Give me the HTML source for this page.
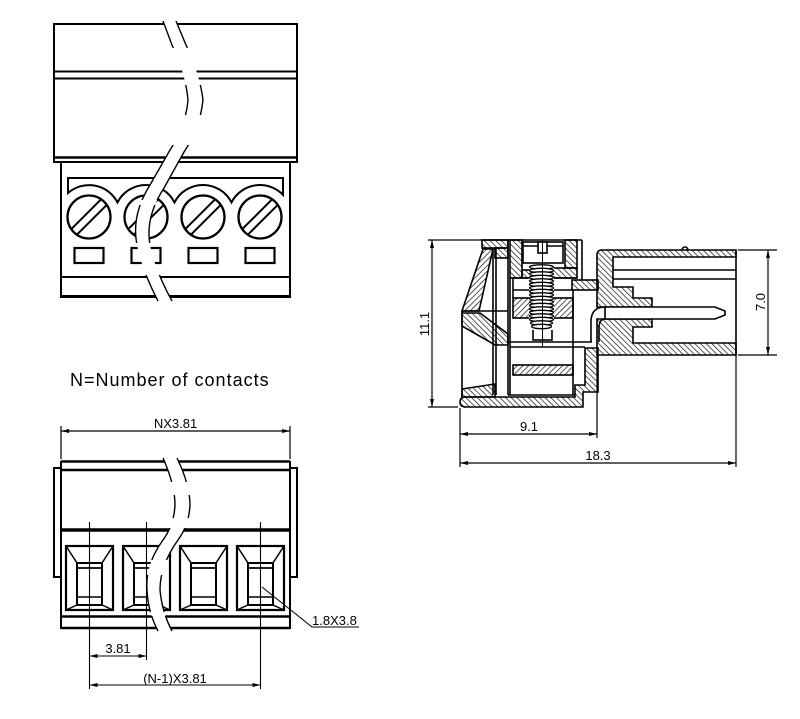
<!DOCTYPE html>
<html><head><meta charset="utf-8"><style>
html,body{margin:0;padding:0;background:#fff;}
svg{display:block;}
text{font-family:"Liberation Sans",sans-serif;fill:#000;}
</style></head><body>
<svg width="800" height="719" viewBox="0 0 800 719" xmlns="http://www.w3.org/2000/svg">
<defs>
<pattern id="hb" width="4" height="4" patternUnits="userSpaceOnUse" patternTransform="rotate(-45)"><line x1="0" y1="0" x2="0" y2="4" stroke="#000" stroke-width="1.3"/></pattern>
<pattern id="hf" width="4" height="4" patternUnits="userSpaceOnUse" patternTransform="rotate(45)"><line x1="0" y1="0" x2="0" y2="4" stroke="#000" stroke-width="1.3"/></pattern>
<clipPath id="ct"><rect x="0" y="20" width="400" height="28"/><rect x="0" y="85" width="400" height="30"/><rect x="0" y="145" width="400" height="55"/><rect x="0" y="205" width="400" height="38"/><rect x="0" y="275" width="400" height="30"/></clipPath>
<clipPath id="cb"><rect x="0" y="457" width="400" height="25"/><rect x="0" y="495" width="400" height="23"/><rect x="0" y="528" width="400" height="32"/><rect x="0" y="575" width="400" height="37"/><rect x="0" y="616" width="400" height="16"/></clipPath>
</defs>
<rect width="800" height="719" fill="#fff"/>

<!-- ================= TOP VIEW ================= -->
<g stroke="#000" fill="none" stroke-width="2">
<rect x="54" y="24" width="243" height="138"/>
<line x1="54" y1="71.5" x2="297" y2="71.5"/>
<line x1="54" y1="78.5" x2="297" y2="78.5"/>
<line x1="54" y1="157.5" x2="297" y2="157.5" stroke-width="2.5"/>
<path d="M61 162 V297 H290 V162"/>
<line x1="61" y1="296.5" x2="290" y2="296.5" stroke-width="3"/>
<line x1="61" y1="277" x2="290" y2="277"/>
<path d="M68 178 H283 V194.8 A32 32 0 0 0 231.5 202.4 A32 32 0 0 0 174.5 202.4 A32 32 0 0 0 117.5 202.4 A32 32 0 0 0 68 193 Z"/>
<g id="scr">
<circle cx="89" cy="217" r="21.5" stroke-width="2.3"/>
<line x1="71.3" y1="229.1" x2="101.1" y2="199.3"/>
<line x1="76.9" y1="234.7" x2="106.7" y2="204.9"/>
<rect x="74.5" y="248" width="29" height="15" stroke-width="2.2"/>
</g>
<use href="#scr" x="57"/>
<use href="#scr" x="114"/>
<use href="#scr" x="171"/>
</g>
<!-- break band top -->
<path d="M163,21 L172,45 Q186,75 188,100 Q186,125 170,150 L150,185 Q131,215 137,245 Q142,270 158,301 L172,301 Q155,270 150,245 Q145,217 164,188 L184,152 Q200,128 203,100 Q200,75 186,45 L176,21 Z" fill="#fff" stroke="none"/>
<g clip-path="url(#ct)" stroke="#000" stroke-width="1.4" fill="none">
<path d="M163,21 L172,45 Q186,75 188,100 Q186,125 170,150 L150,185 Q131,215 137,245 Q142,270 158,301"/>
<path d="M176,21 L186,45 Q200,75 203,100 Q200,128 184,152 L164,188 Q145,217 150,245 Q155,270 172,301"/>
</g>

<text x="70" y="386" font-size="18" letter-spacing="1">N=Number of contacts</text>

<!-- ================= BOTTOM VIEW ================= -->
<g stroke="#000" fill="none" stroke-width="1.2">
<line x1="61" y1="426" x2="61" y2="459"/>
<line x1="290" y1="426" x2="290" y2="459"/>
<line x1="61" y1="431" x2="290" y2="431"/>
</g>
<g fill="#000">
<polygon points="61,431 69,429 69,433"/><polygon points="290,431 282,429 282,433"/>
</g>
<text x="175.5" y="428" font-size="13" text-anchor="middle">NX3.81</text>

<g stroke="#000" fill="none" stroke-width="2">
<line x1="61" y1="461.5" x2="290" y2="461.5" stroke-width="2.6"/>
<line x1="61" y1="470" x2="290" y2="470" stroke-width="2.6"/>
<rect x="54" y="468" width="7" height="109"/>
<rect x="290" y="468" width="7" height="109"/>
<path d="M61 461 V629 M290 461 V629"/>
<line x1="61" y1="530" x2="290" y2="530" stroke-width="3.6"/>
<line x1="61" y1="616.5" x2="290" y2="616.5" stroke-width="2.6"/>
<line x1="61" y1="628" x2="290" y2="628" stroke-width="2.6"/>
<g id="sq">
<rect x="66" y="546" width="47" height="64" stroke-width="2.2"/>
<rect x="77" y="563" width="25" height="42" stroke-width="2"/>
<line x1="77" y1="568" x2="102" y2="568" stroke-width="1.8"/>
<line x1="77" y1="597" x2="102" y2="597" stroke-width="1.5"/>
<path d="M66 546 L77 563 M113 546 L102 563 M66 610 L77 605 M113 610 L102 605" stroke-width="1.5"/>
</g>
<use href="#sq" x="57"/>
<use href="#sq" x="114"/>
<use href="#sq" x="171"/>
</g>
<!-- break band bottom -->
<path d="M163,458 Q175,485 175,505 Q174,525 163,540 Q145,565 147,590 Q148,612 158,631 L172,631 Q162,612 160,590 Q160,565 178,540 Q189,525 190,505 Q190,485 177,458 Z" fill="#fff" stroke="none"/>
<g clip-path="url(#cb)" stroke="#000" stroke-width="1.4" fill="none">
<path d="M163,458 Q175,485 175,505 Q174,525 163,540 Q145,565 147,590 Q148,612 158,631"/>
<path d="M177,458 Q190,485 190,505 Q189,525 178,540 Q160,565 160,590 Q162,612 172,631"/>
</g>
<g stroke="#000" stroke-width="1.1" fill="none">
<line x1="89.5" y1="522" x2="89.5" y2="689"/>
<line x1="146.5" y1="522" x2="146.5" y2="660"/>
<line x1="260.5" y1="522" x2="260.5" y2="689"/>
<line x1="89.5" y1="656" x2="146.5" y2="656"/>
<line x1="89.5" y1="685" x2="260.5" y2="685"/>
<path d="M262 587 L312 627 H359"/>
</g>
<g fill="#000">
<polygon points="89.5,656 97.5,654 97.5,658"/><polygon points="146.5,656 138.5,654 138.5,658"/>
<polygon points="89.5,685 97.5,683 97.5,687"/><polygon points="260.5,685 252.5,683 252.5,687"/>
</g>
<text x="118" y="653" font-size="13" text-anchor="middle">3.81</text>
<text x="175" y="683" font-size="13" text-anchor="middle">(N-1)X3.81</text>
<text x="312" y="625" font-size="13">1.8X3.8</text>

<!-- ================= SIDE VIEW ================= -->
<g stroke="#000" stroke-width="1.2" fill="none">
<line x1="428" y1="240" x2="482" y2="240"/>
<line x1="428" y1="407" x2="458" y2="407"/>
<line x1="432" y1="240" x2="432" y2="407"/>
<line x1="738" y1="250" x2="777" y2="250"/>
<line x1="738" y1="355" x2="777" y2="355"/>
<line x1="768" y1="250" x2="768" y2="355"/>
<line x1="460" y1="408" x2="460" y2="467"/>
<line x1="597" y1="355" x2="597" y2="438"/>
<line x1="736" y1="355" x2="736" y2="467"/>
<line x1="460" y1="434" x2="597" y2="434"/>
<line x1="460" y1="463" x2="736" y2="463"/>
</g>
<g fill="#000">
<polygon points="432,240 430,248 434,248"/><polygon points="432,407 430,399 434,399"/>
<polygon points="768,250 766,258 770,258"/><polygon points="768,355 766,347 770,347"/>
<polygon points="460,434 468,432 468,436"/><polygon points="597,434 589,432 589,436"/>
<polygon points="460,463 468,461 468,465"/><polygon points="736,463 728,461 728,465"/>
</g>
<text transform="translate(429,324) rotate(-90)" font-size="13" text-anchor="middle">11.1</text>
<text transform="translate(765,302) rotate(-90)" font-size="13" text-anchor="middle">7.0</text>
<text x="529" y="431" font-size="13" text-anchor="middle">9.1</text>
<text x="598" y="460" font-size="13" text-anchor="middle">18.3</text>

<!-- housing -->
<g stroke="#000" stroke-width="1.6">
<path d="M602,250 H736 V257 H613 V287 H633 V298 H652 V307 H597 V255 Q597,250 602,250 Z" fill="url(#hb)"/>
<path d="M597,319 H652 V327 H633 V343 H736 V355 H597 Z" fill="url(#hb)"/>
<path d="M605,307 H715 L725,311 V315 L715,319 H605 Z" fill="#fff"/>
</g>
<g stroke="#000" stroke-width="1.6" fill="none">
<line x1="613" y1="270" x2="736" y2="270"/>
<line x1="613" y1="279" x2="736" y2="279"/>
<line x1="736" y1="250" x2="736" y2="355"/>
<path d="M682,250 A3 3 0 0 1 688,250"/>
<path d="M605,307 Q592,307 591,320 V342"/>
<path d="M605,319 Q600,319 599,326 V342"/>
</g>

<!-- main body -->
<g stroke="#000" stroke-width="1.6">
<rect x="482" y="240" width="26" height="8" fill="url(#hb)"/>
<rect x="495" y="248" width="13" height="10" fill="url(#hb)"/>
<rect x="510" y="240" width="12" height="38" fill="url(#hb)"/>
<rect x="565" y="240" width="12" height="28" fill="url(#hb)"/>
<rect x="522" y="270" width="8" height="8" fill="url(#hb)"/>
<rect x="553" y="268" width="24" height="10" fill="url(#hb)"/>
<rect x="572" y="280" width="26" height="10" fill="url(#hb)"/>
<rect x="513" y="298" width="60" height="20" fill="url(#hf)"/>
<rect x="513" y="365" width="60" height="10" fill="url(#hf)"/>
<path d="M483,249 L493,249 L479,311 L462,311 Z" fill="url(#hf)"/>
<path d="M462,313 L480,313 L508,334 L508,345 L495,345 L462,326 Z" fill="url(#hb)"/>
<path d="M462,389 L495,384 V397 H462 Z" fill="url(#hb)"/>
<path d="M466,397 H575 V385 H585 V348 H598 V392 H583 V407 H466 Q460,407 460,402 Q460,397 466,397 Z" fill="url(#hb)"/>
</g>
<g stroke="#000" stroke-width="1.6" fill="none">
<line x1="482" y1="240" x2="582" y2="240"/>
<line x1="582" y1="240" x2="582" y2="280"/>
<line x1="493" y1="249" x2="493" y2="395"/>
<line x1="496" y1="249" x2="496" y2="395"/>
<line x1="508" y1="240" x2="508" y2="395"/>
<line x1="510" y1="278" x2="510" y2="395"/>
<line x1="513" y1="278" x2="513" y2="298"/>
<line x1="510" y1="278" x2="577" y2="278"/>
<line x1="513" y1="290" x2="572" y2="290"/>
<line x1="573" y1="290" x2="573" y2="395"/>
<line x1="508" y1="342" x2="592" y2="342"/>
<line x1="510" y1="347" x2="585" y2="347"/>
<line x1="508" y1="395" x2="575" y2="395"/>
<line x1="462" y1="311" x2="508" y2="311"/>
<line x1="462" y1="311" x2="462" y2="397"/>
</g>
<g stroke="#000" stroke-width="1.6">
<rect x="523" y="242" width="40" height="21" fill="#fff"/>
<line x1="523" y1="246" x2="563" y2="246"/>
<rect x="538" y="242" width="9" height="11" fill="#fff"/>
<rect x="533" y="322" width="19" height="18" fill="#fff"/>
</g>
<g stroke="#000" stroke-width="1.3" fill="#fff">
<rect x="529" y="264" width="25" height="66" stroke="none"/>
<ellipse cx="541.5" cy="267" rx="12" ry="2.2"/>
<ellipse cx="541.5" cy="270.5" rx="12" ry="2.2"/>
<ellipse cx="541.5" cy="274" rx="12" ry="2.2"/>
<ellipse cx="541.5" cy="277.5" rx="12" ry="2.2"/>
<ellipse cx="541.5" cy="281" rx="12" ry="2.2"/>
<ellipse cx="541.5" cy="284.5" rx="12" ry="2.2"/>
<ellipse cx="541.5" cy="288" rx="12" ry="2.2"/>
<ellipse cx="541.5" cy="291.5" rx="12" ry="2.2"/>
<ellipse cx="541.5" cy="295" rx="12" ry="2.2"/>
<ellipse cx="541.5" cy="298.5" rx="12" ry="2.2"/>
<ellipse cx="541.5" cy="302" rx="12" ry="2.2"/>
<ellipse cx="541.5" cy="305.5" rx="12" ry="2.2"/>
<ellipse cx="541.5" cy="309" rx="12" ry="2.2"/>
<ellipse cx="541.5" cy="312.5" rx="12" ry="2.2"/>
<ellipse cx="541.5" cy="316" rx="12" ry="2.2"/>
<ellipse cx="541.5" cy="319.5" rx="12" ry="2.2"/>
<ellipse cx="541.5" cy="323" rx="11" ry="2.2"/>
<ellipse cx="541.5" cy="326.5" rx="10" ry="2.2"/>
</g>
<line x1="542.5" y1="240" x2="542.5" y2="347" stroke="#000" stroke-width="1"/>
</svg>
</body></html>
